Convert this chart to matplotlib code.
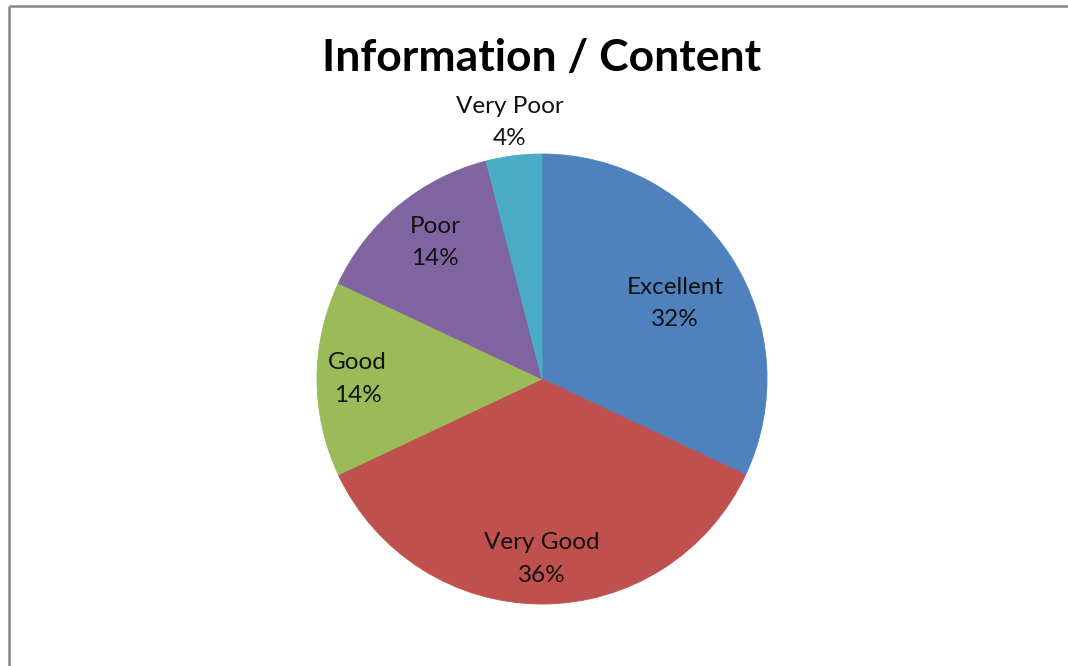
import matplotlib
matplotlib.use("Agg")
import matplotlib.pyplot as plt
from matplotlib.lines import Line2D
import numpy as np

plt.rcParams['font.family'] = ['Lato', 'DejaVu Sans']

title = "Information / Content"
categories = ["Excellent", "Very Good", "Good", "Poor", "Very Poor"]
percent = [32, 36, 14, 14, 4]
colors = ["#4F81BD", "#C0504D", "#9BBB59", "#8064A2", "#4BACC6"]
# label placement: radial distance (pie radii) and angular nudge (degrees)
label_radius = [0.68, 0.80, 0.82, 0.77, 1.15]
label_nudge = [-3.0, 0.0, 0.0, -1.5, 0.0]

W, H = 1068, 666
fig = plt.figure(figsize=(W / 100, H / 100), dpi=100)

# chart frame (top and left edges)
fig.add_artist(Line2D([9 / W, 9 / W], [0, 1 - 6 / H], transform=fig.transFigure,
                      color="#868686", lw=1.8, solid_capstyle="butt"))
fig.add_artist(Line2D([9 / W, 1], [1 - 6 / H, 1 - 6 / H], transform=fig.transFigure,
                      color="#868686", lw=1.8, solid_capstyle="butt"))

cx, cy, r = 542, 379, 225
ax = fig.add_axes([(cx - r) / W, (H - cy - r) / H, 2 * r / W, 2 * r / H])
wedges, _ = ax.pie(percent, colors=colors, startangle=90, counterclock=False,
                   radius=1, center=(0, 0),
                   wedgeprops=dict(linewidth=0.6))
for w, c in zip(wedges, colors):
    w.set_edgecolor(c)
ax.set_xlim(-1, 1)
ax.set_ylim(-1, 1)
ax.set_aspect("auto")
ax.axis("off")

for w, name, p, lr, nd in zip(wedges, categories, percent, label_radius, label_nudge):
    ang = np.deg2rad((w.theta1 + w.theta2) / 2 + nd)
    ax.text(lr * np.cos(ang), lr * np.sin(ang), f"{name}\n{p}%",
            ha="center", va="center", fontsize=17.5, color="#111111",
            linespacing=1.65)

fig.text(cx / W, 1 - 58 / H, title, ha="center", va="center",
         fontsize=32, fontweight="bold", color="black")

fig.savefig("out.png", dpi=100)
